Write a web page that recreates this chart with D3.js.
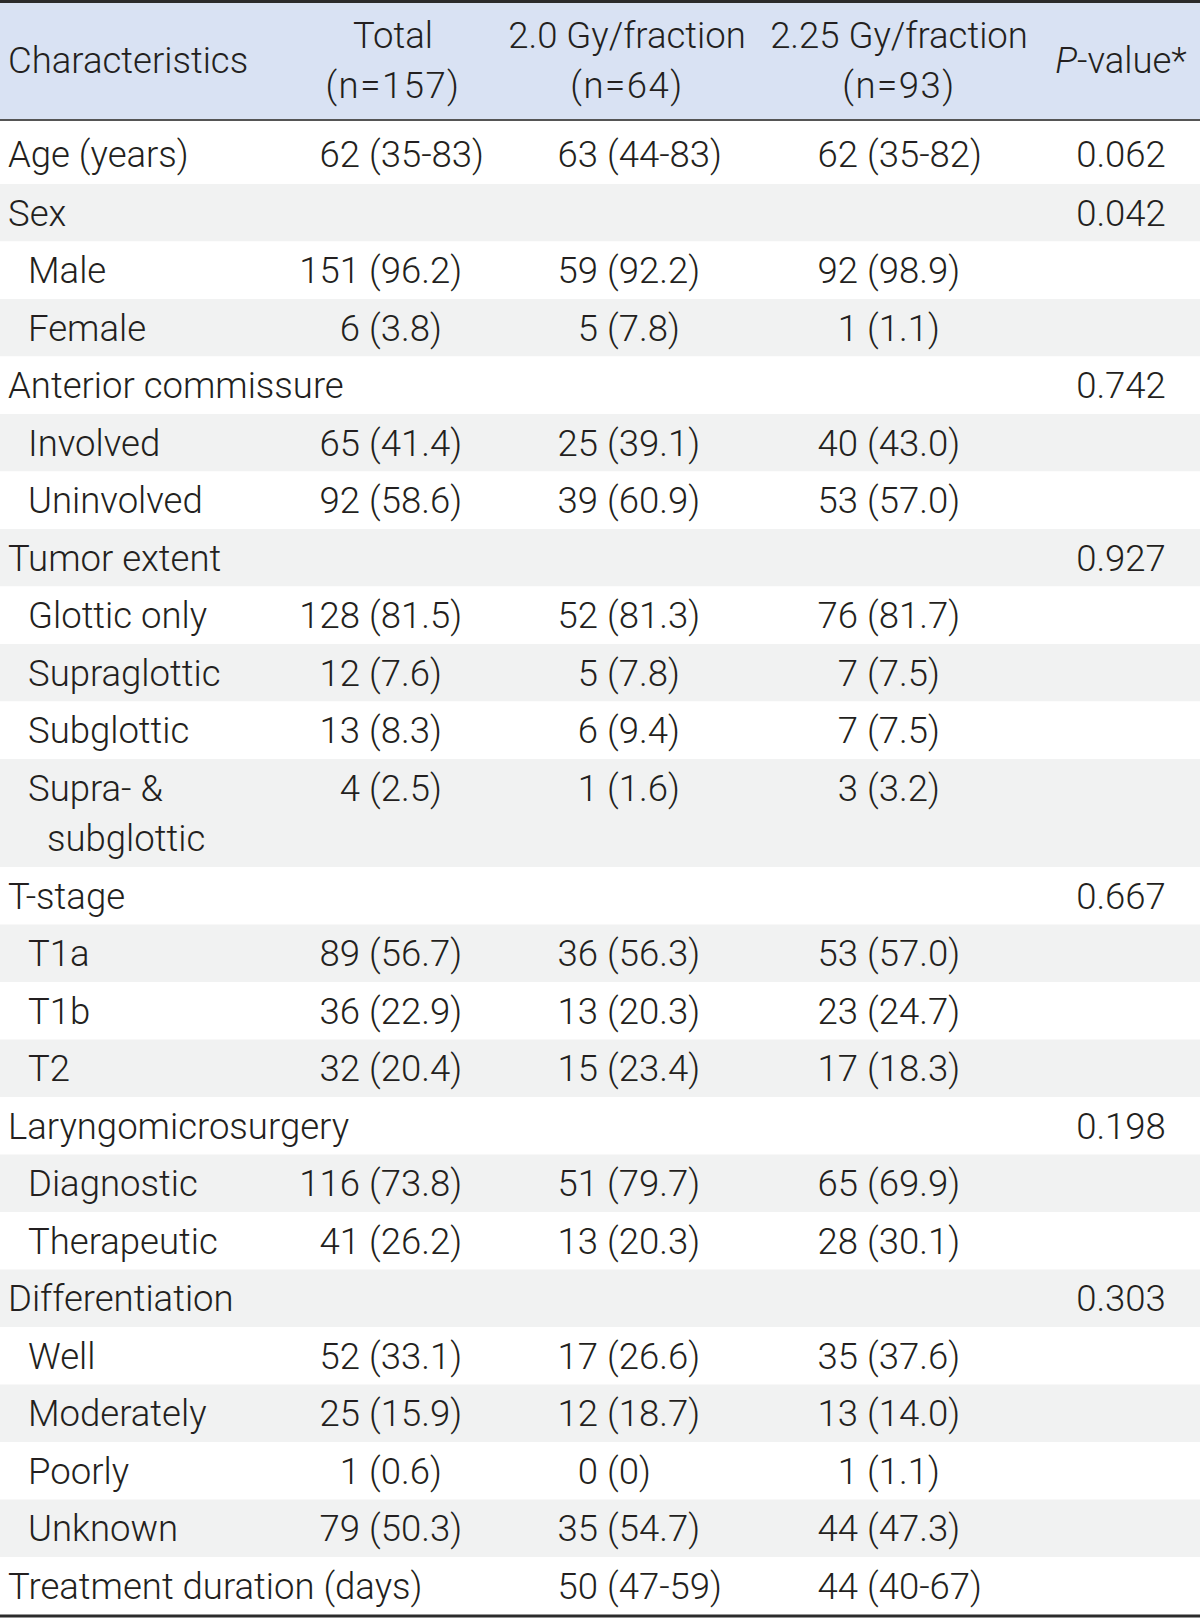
<!DOCTYPE html>
<html><head><meta charset="utf-8">
<script src="https://cdn.jsdelivr.net/npm/d3@7"></script>
<style>
html,body{margin:0;padding:0;background:#fff;}
text{font-family:Roboto,"Liberation Sans",sans-serif;font-weight:300;fill:#231f20;}
</style></head>
<body>
<svg id="chart" width="1200" height="1622"></svg>
<script>
const headers = ["Characteristics", ["Total", "(n=157)"], ["2.0 Gy/fraction", "(n=64)"], ["2.25 Gy/fraction", "(n=93)"], "P-value*"];
const labels = ["Age (years)","Sex","Male","Female","Anterior commissure","Involved","Uninvolved","Tumor extent","Glottic only","Supraglottic","Subglottic","Supra- &\nsubglottic","T-stage","T1a","T1b","T2","Laryngomicrosurgery","Diagnostic","Therapeutic","Differentiation","Well","Moderately","Poorly","Unknown","Treatment duration (days)"];
const indents = [0,0,1,1,0,1,1,0,1,1,1,1,0,1,1,1,0,1,1,0,1,1,1,1,0];
const totalVals = ["62 (35-83)","","151 (96.2)","6 (3.8)","","65 (41.4)","92 (58.6)","","128 (81.5)","12 (7.6)","13 (8.3)","4 (2.5)","","89 (56.7)","36 (22.9)","32 (20.4)","","116 (73.8)","41 (26.2)","","52 (33.1)","25 (15.9)","1 (0.6)","79 (50.3)",""];
const g20Vals = ["63 (44-83)","","59 (92.2)","5 (7.8)","","25 (39.1)","39 (60.9)","","52 (81.3)","5 (7.8)","6 (9.4)","1 (1.6)","","36 (56.3)","13 (20.3)","15 (23.4)","","51 (79.7)","13 (20.3)","","17 (26.6)","12 (18.7)","0 (0)","35 (54.7)","50 (47-59)"];
const g225Vals = ["62 (35-82)","","92 (98.9)","1 (1.1)","","40 (43.0)","53 (57.0)","","76 (81.7)","7 (7.5)","7 (7.5)","3 (3.2)","","53 (57.0)","23 (24.7)","17 (18.3)","","65 (69.9)","28 (30.1)","","35 (37.6)","13 (14.0)","1 (1.1)","44 (47.3)","44 (40-67)"];
const pVals = ["0.062","0.042","","","0.742","","","0.927","","","","","0.667","","","","0.198","","","0.303","","","","",""];

const W = 1200, FS = 36.5;
const svg = d3.select("#chart");
const headBottom = 120;
const lineH = 57.5;

// row geometry
const heights = labels.map((l, i) => i === 0 ? 63 : (l.includes("\n") ? 108 : lineH));
const ys = [];
let acc = headBottom + 1;
heights.forEach(h => { ys.push(acc); acc += h; });
const tableBottom = acc;

// column anchors
const colSplit = { total: 360, g20: 598, g225: 858 };
const gap = 9;
const pX = 1121;

// header background
svg.append("rect").attr("x", 0).attr("y", 0).attr("width", W).attr("height", headBottom)
  .attr("fill", "#d9e2f3");
// row bands
svg.selectAll("rect.band").data(labels).enter().append("rect")
  .attr("class", "band")
  .attr("x", 0).attr("y", (d, i) => ys[i]).attr("width", W).attr("height", (d, i) => heights[i])
  .attr("fill", (d, i) => i % 2 === 1 ? "#f1f2f2" : "#ffffff");

// rules
svg.append("rect").attr("x", 0).attr("y", 0).attr("width", W).attr("height", 3).attr("fill", "#2b2b2b");
svg.append("rect").attr("x", 0).attr("y", headBottom - 1).attr("width", W).attr("height", 2).attr("fill", "#555");
svg.append("rect").attr("x", 0).attr("y", tableBottom).attr("width", W).attr("height", 3).attr("fill", "#2b2b2b");

// header text
svg.append("text").attr("x", 8).attr("y", 60).attr("dy", "0.35em").attr("font-size", FS).text(headers[0]);
const headCenters = [393, 627, 899];
[1, 2, 3].forEach((k, j) => {
  headers[k].forEach((t, li) => {
    svg.append("text").attr("x", headCenters[j]).attr("y", li === 0 ? 35 : 85).attr("dy", "0.35em")
      .attr("text-anchor", "middle").attr("font-size", FS)
      .attr("letter-spacing", li === 1 ? 1.5 : 0).text(t);
  });
});
const ph = svg.append("text").attr("x", pX).attr("y", 60).attr("dy", "0.35em").attr("text-anchor", "middle").attr("font-size", FS);
ph.append("tspan").attr("font-style", "italic").text("P");
ph.append("tspan").text("-value*");

// body
const firstLineY = i => ys[i] + (i === 0 ? 33.5 : lineH / 2);
labels.forEach((lab, i) => {
  const parts = lab.split("\n");
  parts.forEach((p, li) => {
    svg.append("text")
      .attr("x", 8 + indents[i] * 20 + li * 19)
      .attr("y", firstLineY(i) + li * 50).attr("dy", "0.35em")
      .attr("font-size", FS).text(p);
  });
});

function drawCol(vals, split) {
  vals.forEach((v, i) => {
    if (!v) return;
    const k = v.indexOf(" ");
    const a = v.slice(0, k), b = v.slice(k + 1);
    const y = firstLineY(i);
    svg.append("text").attr("x", split).attr("y", y).attr("dy", "0.35em")
      .attr("text-anchor", "end").attr("font-size", FS).text(a);
    svg.append("text").attr("x", split + gap).attr("y", y).attr("dy", "0.35em")
      .attr("text-anchor", "start").attr("font-size", FS).text(b);
  });
}
drawCol(totalVals, colSplit.total);
drawCol(g20Vals, colSplit.g20);
drawCol(g225Vals, colSplit.g225);

pVals.forEach((v, i) => {
  if (!v) return;
  svg.append("text").attr("x", pX).attr("y", firstLineY(i)).attr("dy", "0.35em")
    .attr("text-anchor", "middle").attr("font-size", FS).text(v);
});
</script>
</body></html>
